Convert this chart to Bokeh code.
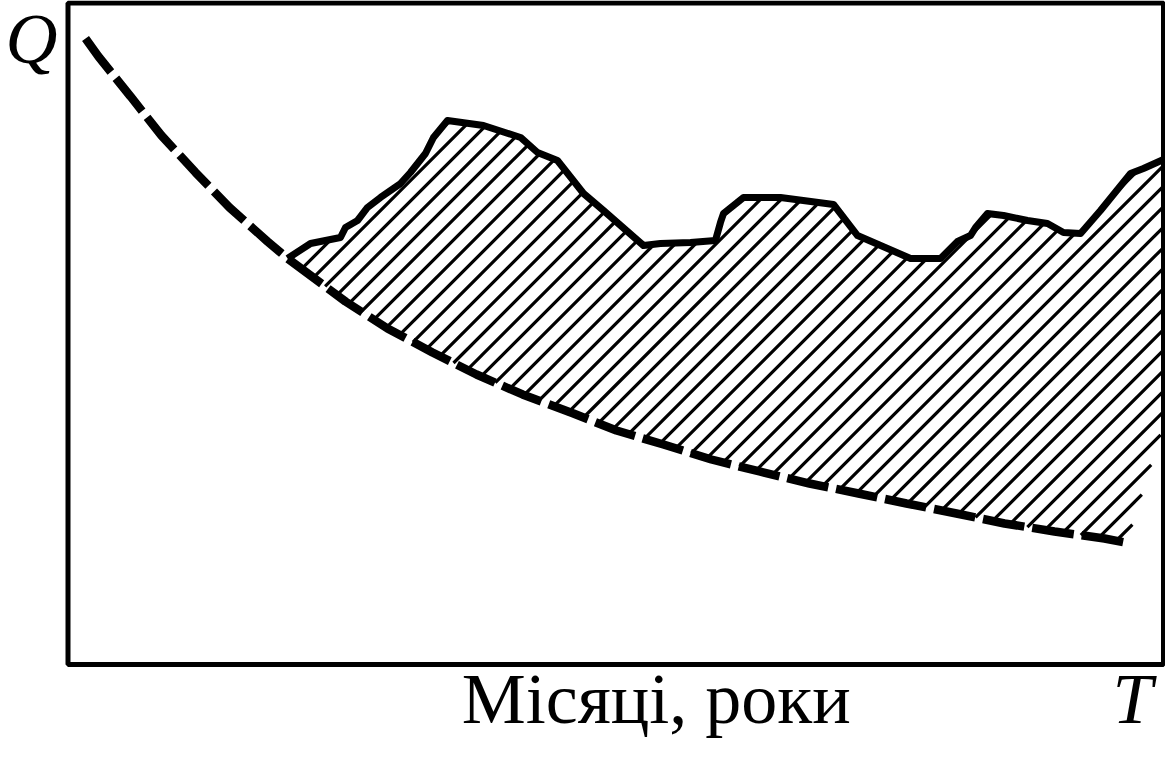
import numpy as np
from bokeh.plotting import figure
from bokeh.models import Range1d, Label, BoxAnnotation
from bokeh.embed import file_html
from bokeh.resources import INLINE

# Lower (dashed) curve: T vs Q, in relative units 0..100
lower_t = [1.60, 2.78, 5.71, 8.53, 11.64, 14.74, 18.21, 20.04, 25.33, 29.17, 33.27,
           37.29, 41.49, 46.14, 50.07, 54.36, 58.74, 63.12, 67.69, 72.16, 76.54,
           81.10, 85.49, 90.05, 94.61, 96.53]
lower_q = [94.63, 91.91, 85.87, 79.97, 74.38, 69.09, 63.95, 61.38, 54.88, 50.79, 47.17,
           43.84, 40.82, 37.94, 35.37, 33.26, 30.99, 29.18, 27.36, 25.85, 24.34,
           22.83, 21.32, 20.11, 19.05, 18.44]

# Upper (solid) curve
upper_t = [20.04, 22.14, 24.87, 25.33, 26.43, 27.34, 28.53, 30.35, 31.26, 32.63, 33.36,
           34.64, 37.93, 41.31, 42.86, 44.68, 47.06, 48.88, 52.53, 54.08, 56.82, 59.10,
           59.56, 59.84, 61.66, 65.04, 69.88, 72.07, 76.91, 79.65, 81.20, 82.38, 82.84,
           83.93, 85.40, 87.59, 89.41, 90.87, 92.43, 94.25, 96.99, 98.17, 100.0]
upper_q = [61.38, 63.64, 64.55, 66.06, 67.12, 69.09, 70.60, 72.71, 74.38, 77.25, 79.67,
           82.24, 81.48, 79.67, 77.40, 76.19, 71.20, 68.63, 63.34, 63.64, 63.79, 64.10,
           66.82, 68.18, 70.60, 70.60, 69.54, 64.85, 61.38, 61.38, 63.95, 64.85, 66.06,
           68.18, 67.88, 67.12, 66.67, 65.31, 65.15, 68.63, 74.22, 74.98, 76.34]

# Right edge of the hatched area
edge_t = [100.0, 97.0]
edge_q = [36.1, 20.3]

# Texts
q_label = "Q"
t_label = "T"
x_title = "Місяці, роки"

# Layout: data -> pixel mapping of the box (0..100 in both directions)
W, H = 1165, 741
OX, OY = 67.5, 664.0      # pixel position of (0, 0)
SX, SY = 10.955, 6.615    # pixels per unit

p = figure(width=W, height=H,
           x_range=Range1d(-OX / SX, (W - OX) / SX),
           y_range=Range1d((OY - H) / SY, OY / SY),
           x_axis_type=None, y_axis_type=None, toolbar_location=None,
           output_backend="svg",
           min_border_left=0, min_border_right=0, min_border_top=0, min_border_bottom=0)
p.grid.visible = False
p.outline_line_color = None
p.background_fill_color = "white"
p.border_fill_color = "white"

# Hatched region between the curves (polygon), hatch lines at 45 degrees on screen
hx = np.array(upper_t + edge_t + lower_t[::-1][:-7])
hy = np.array(upper_q + edge_q + lower_q[::-1][:-7])
px = OX + SX * hx
py = OY - SY * hy
u = px + py
n = len(px)
hatch_xs, hatch_ys = [], []
step = 20.5
for c in np.arange(u.min() + 4, u.max(), step):
    pts = []
    for i in range(n):
        j = (i + 1) % n
        a, b = u[i] - c, u[j] - c
        if a * b < 0:
            t = a / (a - b)
            pts.append((px[i] + t * (px[j] - px[i]), py[i] + t * (py[j] - py[i])))
    pts.sort()
    for k in range(0, len(pts) - 1, 2):
        (x0, y0), (x1, y1) = pts[k], pts[k + 1]
        hatch_xs.append([(x0 - OX) / SX, (x1 - OX) / SX])
        hatch_ys.append([(OY - y0) / SY, (OY - y1) / SY])
p.multi_line(hatch_xs, hatch_ys, line_color="black", line_width=3.2)

p.line(lower_t, lower_q, line_color="black", line_width=8.5, line_dash="42 8", line_cap="butt")
p.line(upper_t, upper_q, line_color="black", line_width=7, line_join="round")

# Frame box
p.add_layout(BoxAnnotation(left=0, right=100, bottom=0, top=100, fill_alpha=0,
                           line_color="black", line_alpha=1.0, line_width=5))

font = "Liberation Serif"
p.add_layout(Label(x=-5.7, y=94.5, text=q_label, text_font=font, text_font_style="italic",
                   text_font_size="72px", text_align="left", text_baseline="alphabetic",
                   text_color="black"))
p.add_layout(Label(x=99.0, y=-5.2, text=t_label, text_font=font, text_font_style="italic",
                   text_font_size="72px", text_align="right", text_baseline="alphabetic",
                   text_color="black"))
p.add_layout(Label(x=53.7, y=-5.2, text=x_title, text_font=font,
                   text_font_size="72px", text_align="center", text_baseline="alphabetic",
                   text_color="black"))

open("out.html", "w").write(file_html(p, INLINE))
